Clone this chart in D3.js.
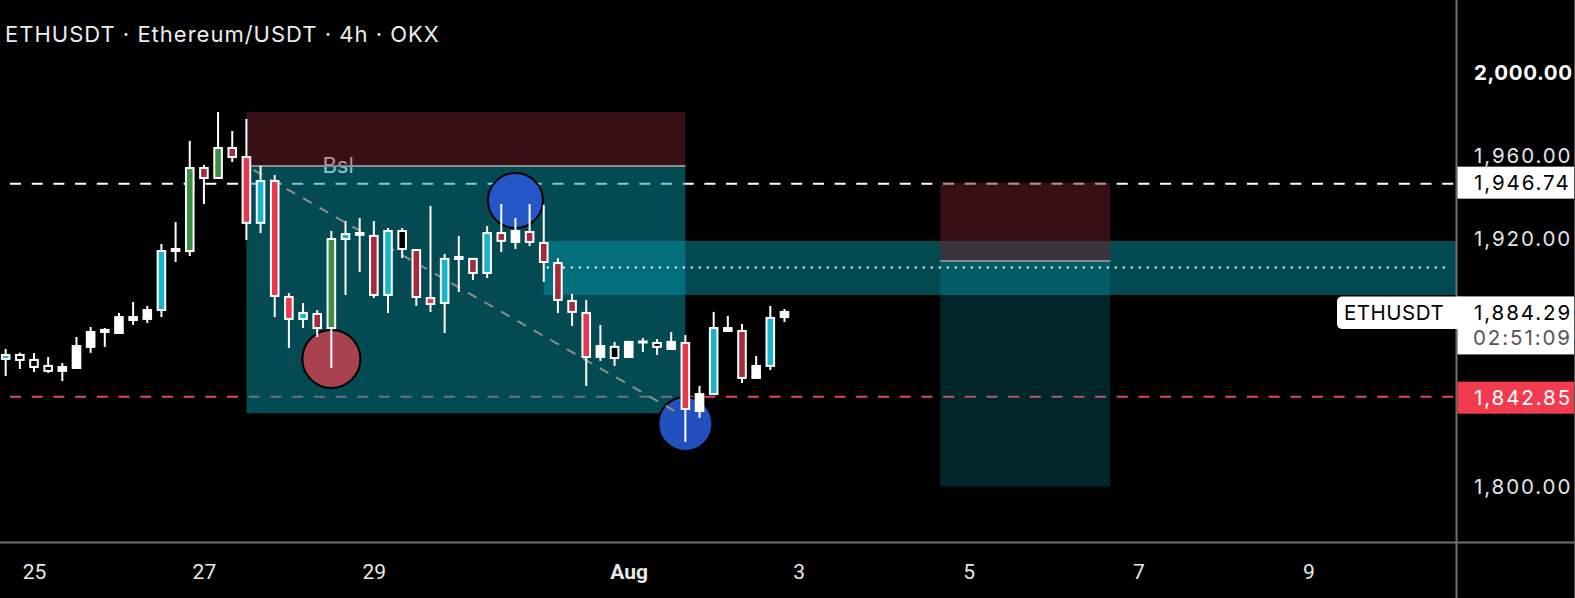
<!DOCTYPE html>
<html><head><meta charset="utf-8">
<script src="https://cdn.jsdelivr.net/npm/d3@7"></script>
<style>
html,body{margin:0;padding:0;background:#000;overflow:hidden}
svg{display:block}
</style></head><body>
<svg id="c" width="1575" height="598"></svg>
<script>
// ---------- DATA ----------
const times = [
 "2023-07-24T16","2023-07-24T20",
 "2023-07-25T00","2023-07-25T04","2023-07-25T08","2023-07-25T12","2023-07-25T16","2023-07-25T20",
 "2023-07-26T00","2023-07-26T04","2023-07-26T08","2023-07-26T12","2023-07-26T16","2023-07-26T20",
 "2023-07-27T00","2023-07-27T04","2023-07-27T08","2023-07-27T12","2023-07-27T16","2023-07-27T20",
 "2023-07-28T00","2023-07-28T04","2023-07-28T08","2023-07-28T12","2023-07-28T16","2023-07-28T20",
 "2023-07-29T00","2023-07-29T04","2023-07-29T08","2023-07-29T12","2023-07-29T16","2023-07-29T20",
 "2023-07-30T00","2023-07-30T04","2023-07-30T08","2023-07-30T12","2023-07-30T16","2023-07-30T20",
 "2023-07-31T00","2023-07-31T04","2023-07-31T08","2023-07-31T12","2023-07-31T16","2023-07-31T20",
 "2023-08-01T00","2023-08-01T04","2023-08-01T08","2023-08-01T12","2023-08-01T16","2023-08-01T20",
 "2023-08-02T00","2023-08-02T04","2023-08-02T08","2023-08-02T12","2023-08-02T16","2023-08-02T20"
];
const openP = [1861.6,1863.5,1861.1,1858.2,1855.8,1857.2,1867.4,1874.6,1874.1,1880.4,1880.9,1885.2,1913.7,1913.7,
 1953.8,1949.0,1963.5,1959.1,1927.3,1947.5,1891.5,1880.9,1883.3,1876.5,1919.5,1921.5,1921.0,1892.5,1923.4,1914.2,
 1891.0,1888.6,1909.9,1909.9,1903.1,1922.4,1918.1,1922.9,1917.6,1907.9,1889.6,1883.8,1862.5,1867.4,1862.5,1869.5,
 1869.3,1866.4,1869.3,1836.4,1844.6,1875.1,1875.1,1852.4,1858.2,1881.8];
const highP = [1866.4,1864.6,1864.5,1862.5,1859.6,1872.2,1877.0,1876.5,1883.8,1889.1,1887.2,1917.1,1927.7,1966.9,
 1955.3,1980.9,1971.7,1977.5,1954.8,1950.4,1893.4,1888.6,1885.2,1923.4,1928.2,1929.7,1928.2,1924.8,1924.8,1914.7,
 1935.5,1912.3,1921.0,1910.3,1925.8,1936.4,1929.7,1936.4,1936.0,1910.3,1893.0,1890.1,1878.0,1869.8,1870.3,1871.7,
 1871.2,1874.6,1873.1,1848.5,1884.3,1882.3,1878.5,1863.0,1887.2,1885.7];
const lowP = [1853.3,1856.7,1855.3,1854.8,1850.9,1856.7,1864.5,1867.4,1873.9,1878.0,1878.9,1881.8,1908.4,1911.3,
 1936.4,1948.5,1956.7,1919.0,1922.4,1881.8,1866.9,1876.5,1872.2,1857.2,1892.5,1903.6,1891.0,1883.8,1910.3,1887.2,
 1884.3,1874.1,1893.9,1899.7,1900.7,1913.2,1914.7,1916.1,1898.8,1883.8,1877.5,1848.5,1860.6,1858.2,1862.0,1864.9,
 1863.5,1866.4,1821.5,1833.1,1844.2,1874.6,1850.0,1852.4,1856.2,1879.4];
const closeP = [1863.5,1861.1,1857.7,1855.8,1857.7,1867.8,1874.6,1875.6,1881.8,1881.8,1885.2,1913.7,1914.7,1953.8,
 1949.0,1963.5,1959.1,1927.3,1947.5,1892.0,1880.9,1883.8,1876.5,1919.5,1921.9,1922.4,1892.5,1923.4,1914.7,1891.5,
 1888.1,1909.9,1910.8,1903.1,1922.4,1918.6,1923.4,1918.1,1908.4,1890.1,1884.3,1862.5,1867.8,1862.0,1869.8,1870.0,
 1867.4,1869.8,1837.4,1844.6,1876.5,1876.5,1852.4,1858.2,1881.4,1884.29];
const candleStyle = ["cyan","black","black","black","white","white","white","white","white","white","white","cyan","white","green",
 "darkred","green","darkred","red","cyan","red","red","cyan","darkred","green","cyan","white","darkred","cyan","black","darkred",
 "red","cyan","white","darkred","cyan","darkred","white","darkred","darkred","darkred","darkred","red","white","black","white","white",
 "black","white","red","white","cyan","white","darkred","white","cyan","white"];

// visible price-scale labels (1840 and 1880 are hidden behind the price tags in the original)
const priceTicks = [1800, 1920, 1960, 2000];
const dateTicks = ["2023-07-25T00","2023-07-27T00","2023-07-29T00","2023-08-01T00","2023-08-03T00","2023-08-05T00","2023-08-07T00","2023-08-09T00"];
const dateTickLabels = ["25","27","29","Aug","3","5","7","9"];

const title = "ETHUSDT · Ethereum/USDT · 4h · OKX";
const symbol = "ETHUSDT";
const lastPrice = 1884.29;
const countdown = "02:51:09";
const highLevel = 1946.74;
const lowLevel = 1842.85;

// drawings
const rangeBoxTimes = ["2023-07-27T12", "2023-08-01T16"];
const rangeBoxPrices = [1980.9, 1954.8, 1835.3]; // supply top, range top, range bottom
const bandStartTime = "2023-07-31T00";
const bandPrices = [1918.6, 1892.5];
const midLevel = 1905.7;
const trendTimes = ["2023-07-27T14", "2023-08-01T15"];
const trendPrices = [1952.9, 1834.5];
const circleTimes = ["2023-07-28T12", "2023-07-30T16", "2023-08-01T16"];
const circlePrices = [1861.6, 1938.1, 1830.2];
const positionTimes = ["2023-08-04T16", "2023-08-06T16"];
const positionPrices = [1946.74, 1908.9, 1800.0]; // stop, entry, target
const bslLabel = "Bsl";

// ---------- LAYOUT ----------
const W = 1575, H = 598, PR = 1456.5, PB = 542.5;
const parseT = d3.utcParse("%Y-%m-%dT%H");
const x = d3.scaleUtc().domain([parseT("2023-07-25T00"), parseT("2023-08-09T00")]).range([34, 1308.4]);
const y = d3.scaleLinear().domain([1800, 1960]).range([486.4, 155.2]);

const colors = {cyan:"#1ab4ca", green:"#3d8c40", red:"#e8384e", darkred:"#a62a3b", white:"#ffffff", black:"#000000"};
const FONT = "Inter, 'Liberation Sans', Arial, sans-serif";
const LS = 1.9, FS = 20.5;

const svg = d3.select("#c");
svg.append("rect").attr("width", W).attr("height", H).attr("fill", "#000");

const plot = svg.append("g");
plot.append("defs").append("clipPath").attr("id","pc").append("rect").attr("width",PR).attr("height",PB);
const P = plot.append("g").attr("clip-path","url(#pc)");

// horizontal dashed level lines (under boxes)
P.append("line").attr("x1",10).attr("x2",PR).attr("y1",y(highLevel)+1).attr("y2",y(highLevel)+1)
 .attr("stroke","#ffffff").attr("stroke-width",2).attr("stroke-dasharray","11,10.7");
P.append("line").attr("x1",10).attr("x2",PR).attr("y1",y(lowLevel)-1).attr("y2",y(lowLevel)-1)
 .attr("stroke","#dc4a5f").attr("stroke-width",2).attr("stroke-dasharray","11,10.7");

const bx0 = x(parseT(rangeBoxTimes[0])), bx1 = x(parseT(rangeBoxTimes[1]));
// Bsl label (beneath translucent boxes)
P.append("text").attr("x", bx0 + 76).attr("y", y(rangeBoxPrices[1]) + 7)
 .attr("font-family", FONT).attr("font-size", 22).attr("fill", "#ffffff").text(bslLabel);

const RED = "rgba(112,30,40,0.5)", TEAL = "rgba(6,148,166,0.5)", TEAL_L = "rgba(6,148,166,0.25)";
P.append("rect").attr("x",bx0).attr("width",bx1-bx0).attr("y",y(rangeBoxPrices[0]))
 .attr("height",y(rangeBoxPrices[1])-y(rangeBoxPrices[0])).attr("fill",RED);
P.append("rect").attr("x",bx0).attr("width",bx1-bx0).attr("y",y(rangeBoxPrices[1]))
 .attr("height",y(rangeBoxPrices[2])-y(rangeBoxPrices[1])).attr("fill",TEAL);
P.append("line").attr("x1",bx0).attr("x2",bx1).attr("y1",y(rangeBoxPrices[1])).attr("y2",y(rangeBoxPrices[1]))
 .attr("stroke","#8c8c8c").attr("stroke-width",2);

// band
const bandX = x(parseT(bandStartTime));
P.append("rect").attr("x",bandX).attr("width",PR-bandX).attr("y",y(bandPrices[0]))
 .attr("height",y(bandPrices[1])-y(bandPrices[0])).attr("fill",TEAL);

// position tool
const px0 = x(parseT(positionTimes[0])), px1 = x(parseT(positionTimes[1]));
P.append("rect").attr("x",px0).attr("width",px1-px0).attr("y",y(positionPrices[1]))
 .attr("height",y(positionPrices[2])-y(positionPrices[1])).attr("fill",TEAL_L);
P.append("rect").attr("x",px0).attr("width",px1-px0).attr("y",y(positionPrices[0]))
 .attr("height",y(positionPrices[1])-y(positionPrices[0])).attr("fill",RED);
P.append("line").attr("x1",px0).attr("x2",px1).attr("y1",y(positionPrices[1])).attr("y2",y(positionPrices[1]))
 .attr("stroke","#808b94").attr("stroke-width",2);

// circles
const circleFill = ["#a8424e", "#2456c8", "#2250bf"];
const circleR = [29, 27.5, 27];
P.selectAll("circle.mark").data(circleTimes).join("circle").attr("class","mark")
 .attr("cx",(d)=>x(parseT(d))).attr("cy",(d,i)=>y(circlePrices[i])).attr("r",(d,i)=>circleR[i])
 .attr("fill",(d,i)=>circleFill[i]).attr("stroke","#000").attr("stroke-width",2);

// diagonal trend line
P.append("line").attr("x1",x(parseT(trendTimes[0]))).attr("y1",y(trendPrices[0]))
 .attr("x2",x(parseT(trendTimes[1]))).attr("y2",y(trendPrices[1]))
 .attr("stroke","#8e8e8e").attr("stroke-width",2).attr("stroke-dasharray","10,9");

// dotted mid line
P.append("line").attr("x1",bandX+3).attr("x2",PR-8).attr("y1",y(midLevel)).attr("y2",y(midLevel))
 .attr("stroke","#ffffff").attr("stroke-width",2).attr("stroke-dasharray","2,6");

// candles
const candles = times.map((t,i)=>({t:parseT(t), o:openP[i], h:highP[i], l:lowP[i], c:closeP[i], s:candleStyle[i]}));
const cg = P.append("g");
cg.selectAll("line.wick").data(candles).join("line").attr("class","wick")
 .attr("x1",d=>x(d.t)).attr("x2",d=>x(d.t)).attr("y1",d=>y(d.h)).attr("y2",d=>y(d.l))
 .attr("stroke","#fff").attr("stroke-width",2);
const BW = 7.6;
cg.selectAll("rect.body").data(candles).join("rect").attr("class","body")
 .attr("x",d=>x(d.t)-BW/2).attr("width",BW)
 .attr("y",d=>y(Math.max(d.o,d.c))).attr("height",d=>Math.max(0.8, Math.abs(y(d.o)-y(d.c))))
 .attr("fill",d=>colors[d.s]).attr("stroke","#fff").attr("stroke-width",2);

// ---------- AXES ----------
svg.append("line").attr("x1",PR).attr("x2",PR).attr("y1",0).attr("y2",H).attr("stroke","#6f6f6f").attr("stroke-width",2);
svg.append("line").attr("x1",0).attr("x2",W).attr("y1",PB).attr("y2",PB).attr("stroke","#6f6f6f").attr("stroke-width",2);
svg.append("line").attr("x1",W-0.5).attr("x2",W-0.5).attr("y1",0).attr("y2",H).attr("stroke","#555").attr("stroke-width",1);

const yAxis = svg.append("g").attr("transform",`translate(1474,0)`)
 .call(d3.axisRight(y).tickValues(priceTicks).tickFormat(d3.format(",.2f")).tickSize(0).tickPadding(0));
yAxis.select(".domain").remove();
yAxis.selectAll("text").attr("x",0).attr("dy",null).attr("y",7.5).attr("text-anchor","start")
 .attr("font-family",FONT).attr("font-size",FS).attr("letter-spacing",d=>d===2000?0.6:LS)
 .attr("fill",d=>d===2000?"#ffffff":"#e4e4e4").attr("font-weight",d=>d===2000?700:400);

const xAxis = svg.append("g").attr("transform",`translate(0,579)`)
 .call(d3.axisBottom(x).tickValues(dateTicks.map(parseT)).tickFormat((d,i)=>dateTickLabels[i]).tickSize(0).tickPadding(0));
xAxis.select(".domain").remove();
xAxis.selectAll("text").attr("y",0).attr("dy",null)
 .attr("font-family","Roboto, 'Liberation Sans', sans-serif").attr("font-size",21)
 .attr("fill","#e8e8e8").attr("font-weight",(d,i)=>dateTickLabels[i]==="Aug"?700:400);

// label boxes
function priceBox(p, fill, textFill, label) {
  const yy = y(p);
  svg.append("rect").attr("x",PR+1).attr("y",yy-16).attr("width",W-PR-2).attr("height",32).attr("fill",fill);
  svg.append("text").attr("x",1474).attr("y",yy+7.5).attr("font-family",FONT).attr("font-size",FS)
   .attr("letter-spacing",LS).attr("fill",textFill).text(label);
}
const fmt = d3.format(",.2f");
priceBox(highLevel, "#ffffff", "#000", fmt(highLevel));
priceBox(lowLevel, "#f23b4e", "#fff", fmt(lowLevel));

const ly = y(lastPrice);
svg.append("rect").attr("x",1337).attr("y",ly-15.5).attr("width",PR-1337+6).attr("height",32.5).attr("rx",5).attr("fill","#fff");
svg.append("text").attr("x",1344).attr("y",ly+8).attr("font-family",FONT).attr("font-size",FS)
 .attr("letter-spacing",0.5).attr("fill","#000").text(symbol);
svg.append("rect").attr("x",PR+1).attr("y",ly-15.5).attr("width",W-PR-2).attr("height",58).attr("fill","#fff");
svg.append("text").attr("x",1474).attr("y",ly+8).attr("font-family",FONT).attr("font-size",FS)
 .attr("letter-spacing",LS).attr("fill","#000").text(fmt(lastPrice));
svg.append("text").attr("x",1473).attr("y",ly+33).attr("font-family",FONT).attr("font-size",FS)
 .attr("letter-spacing",LS).attr("fill","#555").text(countdown);

// title
svg.append("text").attr("x",5).attr("y",42).attr("font-family",FONT).attr("font-size",22)
 .attr("letter-spacing",1.0).attr("fill","#ececec").text(title);
</script>
</body></html>
